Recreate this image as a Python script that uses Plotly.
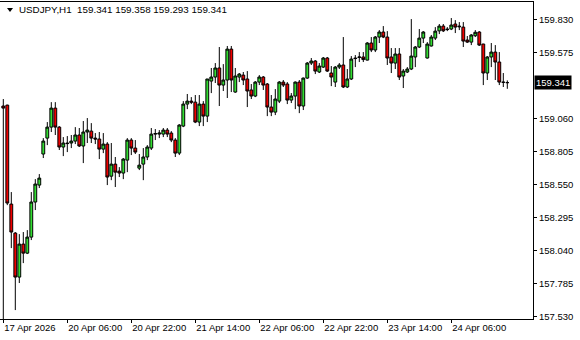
import plotly.graph_objects as go

# ---- data (USDJPY H1) ----
opens = [159.160, 159.167, 158.402, 158.178, 157.838, 158.093, 158.023, 158.147, 158.418, 158.549,
         158.789, 158.912, 158.997, 159.144, 158.997, 158.843, 158.874, 158.874, 158.889, 158.936,
         158.851, 158.959, 158.966, 158.912, 158.905, 158.827, 158.866, 158.618, 158.711, 158.657,
         158.642, 158.742, 158.897, 158.835, 158.680, 158.711, 158.766, 158.835, 158.943, 158.943,
         158.943, 158.974, 158.951, 158.897, 158.796, 159.005, 159.175, 159.198, 159.190, 159.036,
         159.175, 159.082, 159.353, 159.384, 159.454, 159.322, 159.361, 159.600, 159.268, 159.384,
         159.399, 159.369, 159.284, 159.237, 159.345, 159.384, 159.330, 159.152, 159.113, 159.198,
         159.345, 159.330, 159.206, 159.237, 159.345, 159.160, 159.376, 159.492, 159.508, 159.423,
         159.461, 159.531, 159.415, 159.345, 159.461, 159.477, 159.307, 159.369, 159.531, 159.535,
         159.539, 159.515, 159.647, 159.593, 159.693, 159.732, 159.693, 159.539, 159.492, 159.562,
         159.392, 159.423, 159.446, 159.539, 159.616, 159.685, 159.531, 159.624, 159.685, 159.741,
         159.778, 159.755, 159.755, 159.794, 159.778, 159.770, 159.670, 159.654, 159.703, 159.732,
         159.639, 159.415, 159.539, 159.577, 159.500, 159.345, 159.341]
highs = [159.214, 159.170, 158.495, 158.186, 158.170, 158.186, 158.201, 158.495, 158.595, 158.634,
         158.912, 159.036, 159.190, 159.190, 159.005, 158.920, 158.928, 158.936, 158.997, 158.990,
         159.044, 159.067, 159.028, 158.951, 158.959, 158.951, 158.881, 158.874, 158.766, 158.688,
         158.758, 158.912, 158.912, 158.897, 158.789, 158.835, 158.858, 158.990, 158.982, 158.974,
         158.990, 158.990, 158.966, 158.912, 159.020, 159.198, 159.253, 159.229, 159.245, 159.245,
         159.198, 159.369, 159.454, 159.492, 159.616, 159.484, 159.624, 159.624, 159.454, 159.415,
         159.423, 159.430, 159.330, 159.353, 159.399, 159.392, 159.338, 159.245, 159.291, 159.353,
         159.361, 159.345, 159.260, 159.350, 159.361, 159.380, 159.500, 159.531, 159.515, 159.492,
         159.539, 159.539, 159.469, 159.469, 159.492, 159.693, 159.446, 159.546, 159.554, 159.577,
         159.577, 159.654, 159.693, 159.701, 159.747, 159.778, 159.739, 159.608, 159.608, 159.608,
         159.446, 159.461, 159.832, 159.624, 159.755, 159.739, 159.654, 159.709, 159.770, 159.794,
         159.794, 159.770, 159.840, 159.824, 159.809, 159.809, 159.701, 159.716, 159.747, 159.739,
         159.641, 159.546, 159.647, 159.631, 159.577, 159.415, 159.358]
lows = [157.400, 158.394, 158.062, 157.583, 157.792, 157.946, 158.016, 158.124, 158.356, 158.526,
        158.758, 158.858, 158.959, 158.936, 158.820, 158.773, 158.804, 158.835, 158.866, 158.843,
        158.719, 158.874, 158.874, 158.866, 158.750, 158.796, 158.549, 158.587, 158.534, 158.611,
        158.595, 158.649, 158.781, 158.789, 158.665, 158.587, 158.742, 158.820, 158.897, 158.912,
        158.920, 158.920, 158.881, 158.766, 158.781, 158.997, 159.136, 159.175, 159.028, 159.005,
        159.005, 159.036, 159.260, 159.338, 159.160, 159.276, 159.222, 159.268, 159.262, 159.345,
        159.322, 159.152, 159.214, 159.229, 159.322, 159.284, 159.082, 159.082, 159.090, 159.183,
        159.307, 159.175, 159.183, 159.136, 159.105, 159.129, 159.370, 159.477, 159.407, 159.415,
        159.454, 159.423, 159.314, 159.307, 159.446, 159.299, 159.299, 159.361, 159.461, 159.500,
        159.500, 159.512, 159.577, 159.577, 159.647, 159.685, 159.477, 159.415, 159.446, 159.361,
        159.299, 159.415, 159.438, 159.461, 159.608, 159.647, 159.527, 159.620, 159.670, 159.716,
        159.732, 159.739, 159.747, 159.724, 159.747, 159.616, 159.647, 159.631, 159.693, 159.624,
        159.322, 159.361, 159.461, 159.361, 159.322, 159.307, 159.293]
closes = [159.144, 158.410, 158.186, 157.838, 158.093, 158.023, 158.147, 158.418, 158.557, 158.603,
          158.889, 158.997, 159.144, 158.997, 158.843, 158.874, 158.870, 158.889, 158.936, 158.851,
          158.959, 158.974, 158.912, 158.905, 158.827, 158.866, 158.611, 158.711, 158.649, 158.642,
          158.750, 158.897, 158.835, 158.804, 158.703, 158.766, 158.843, 158.943, 158.947, 158.951,
          158.974, 158.943, 158.897, 158.796, 159.013, 159.175, 159.198, 159.190, 159.036, 159.175,
          159.082, 159.369, 159.384, 159.454, 159.322, 159.361, 159.600, 159.361, 159.392, 159.407,
          159.361, 159.276, 159.237, 159.345, 159.384, 159.322, 159.152, 159.113, 159.214, 159.345,
          159.322, 159.206, 159.237, 159.345, 159.160, 159.376, 159.492, 159.508, 159.430, 159.469,
          159.531, 159.430, 159.384, 159.461, 159.477, 159.307, 159.369, 159.523, 159.527, 159.539,
          159.519, 159.647, 159.593, 159.693, 159.732, 159.693, 159.531, 159.492, 159.562, 159.384,
          159.430, 159.446, 159.546, 159.616, 159.685, 159.732, 159.639, 159.693, 159.739, 159.778,
          159.741, 159.751, 159.786, 159.770, 159.773, 159.662, 159.654, 159.709, 159.730, 159.631,
          159.415, 159.539, 159.577, 159.500, 159.345, 159.343, 159.341]

time_tick_bars = [0, 16, 32, 48, 64, 80, 96, 112]
time_tick_labels = ["17 Apr 2026", "20 Apr 06:00", "20 Apr 22:00", "21 Apr 14:00",
                    "22 Apr 06:00", "22 Apr 22:00", "23 Apr 14:00", "24 Apr 06:00"]
price_ticks = [157.530, 157.785, 158.040, 158.295, 158.550, 158.805, 159.060, 159.575, 159.830]
price_labels = ["157.530", "157.785", "158.040", "158.295", "158.550", "158.805", "159.060",
                "159.575", "159.830"]
last_price = 159.341
symbol = "USDJPY,H1"

FONT = "Liberation Sans, Arial, sans-serif"
bars = list(range(len(opens)))

fig = go.Figure()
fig.add_trace(go.Candlestick(
    x=bars, open=opens, high=highs, low=lows, close=closes,
    increasing=dict(line=dict(color="black", width=1), fillcolor="#33DD33"),
    decreasing=dict(line=dict(color="black", width=1), fillcolor="#F00000"),
    whiskerwidth=0, hoverinfo="skip", showlegend=False,
))

W, H = 580, 340
ML, MR, MT, MB = 0, 47, 2, 21
PW, PH = W - ML - MR, H - MT - MB

def px_x(p):
    return p / PW

def px_y(p):
    return (PH + MT - p) / PH

fig.update_layout(
    width=W, height=H,
    margin=dict(l=ML, r=MR, t=MT, b=MB, pad=0),
    paper_bgcolor="white", plot_bgcolor="white",
    boxgap=0.16, boxgroupgap=0.16,
    font=dict(family=FONT, size=9.5, color="black"),
    xaxis=dict(
        range=[-0.825, -0.825 + PW / 4.0],
        rangeslider=dict(visible=False),
        showgrid=False, zeroline=False,
        showline=True, linecolor="black", linewidth=1, mirror=True,
        tickmode="array", tickvals=time_tick_bars, ticktext=time_tick_labels,
        ticks="outside", ticklen=3, tickcolor="black", tickwidth=1,
        ticklabelposition="outside right",
        tickfont=dict(family=FONT, size=9.5, color="black"),
    ),
    yaxis=dict(
        range=[157.514, 159.964],
        side="right",
        showgrid=False, zeroline=False,
        showline=True, linecolor="black", linewidth=1, mirror=True,
        tickmode="array", tickvals=price_ticks, ticktext=price_labels,
        ticks="outside", ticklen=3, tickcolor="black", tickwidth=1,
        tickfont=dict(family=FONT, size=9.5, color="black"),
    ),
)

# header triangle + text
fig.add_shape(type="path", xref="paper", yref="paper",
              path=f"M {px_x(7)} {px_y(8)} L {px_x(13)} {px_y(8)} L {px_x(10)} {px_y(12)} Z",
              fillcolor="black", line=dict(color="black", width=0))
fig.add_annotation(
    xref="paper", yref="paper", x=px_x(17), y=px_y(10), xanchor="left", yanchor="middle",
    text=f"{symbol}  {opens[-1]:.3f} {highs[-1]:.3f} {lows[-1]:.3f} {closes[-1]:.3f}",
    showarrow=False, font=dict(family=FONT, size=9.8, color="black"),
)

# current price label
fig.add_annotation(
    xref="paper", yref="y", x=1, y=last_price, xanchor="left", yanchor="middle", xshift=1,
    text=f"{last_price:.3f}", showarrow=False, bgcolor="black", borderpad=1,
    font=dict(family=FONT, size=9.5, color="white"),
)

fig.write_html("out.html")
